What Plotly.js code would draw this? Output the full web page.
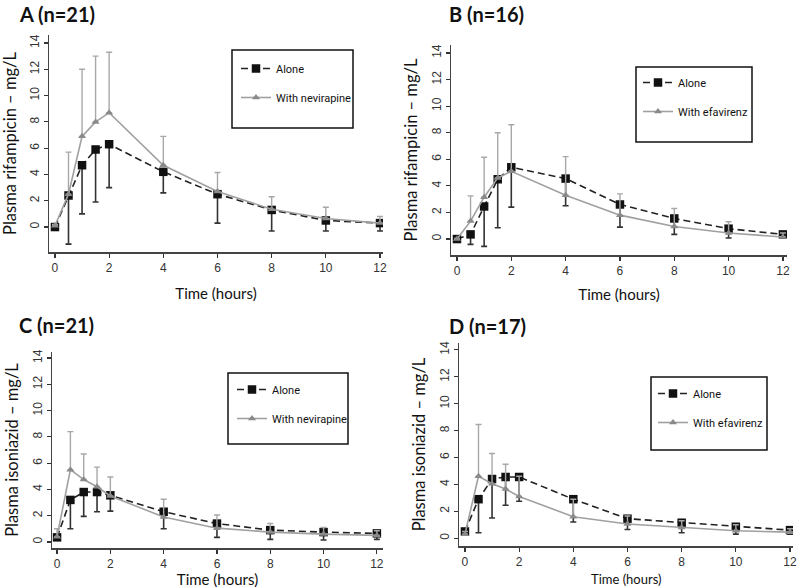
<!DOCTYPE html>
<html>
<head>
<meta charset="utf-8">
<script src="https://cdn.plot.ly/plotly-3.0.1.min.js"></script>
<style>
  body { margin: 0; background: #fff; }
  #chart { width: 800px; height: 588px; }
</style>
</head>
<body>
<div id="chart"></div>
<script>
// sampling times (hours)
const times = [0, 0.5, 1, 1.5, 2, 4, 6, 8, 10, 12]

// A: rifampicin, alone vs with nevirapine
const aloneA = [0.0, 2.4, 4.7, 5.9, 6.3, 4.2, 2.5, 1.3, 0.5, 0.3]
const aloneA_lo = [0.1, 3.7, 3.7, 4.0, 3.3, 1.6, 2.2, 1.6, 0.8, 0.6]
const withA = [0.1, 2.5, 6.9, 8.0, 8.7, 4.7, 2.7, 1.35, 0.65, 0.3]
const withA_hi = [0.1, 3.2, 5.1, 5.0, 4.6, 2.2, 1.45, 0.95, 0.85, 0.5]

// B: rifampicin, alone vs with efavirenz
const aloneB = [0.0, 0.35, 2.45, 4.5, 5.4, 4.55, 2.6, 1.55, 0.78, 0.35]
const aloneB_lo = [0.05, 0.75, 3.0, 3.65, 3.0, 2.05, 1.7, 1.2, 0.7, 0.25]
const withB = [0.0, 1.35, 3.15, 4.6, 5.1, 3.3, 1.8, 0.95, 0.45, 0.15]
const withB_hi = [0.05, 1.9, 3.0, 3.4, 3.5, 2.9, 1.6, 1.35, 0.85, 0.3]

// C: isoniazid, alone vs with nevirapine
const aloneC = [0.35, 3.2, 3.8, 3.8, 3.55, 2.3, 1.4, 0.9, 0.75, 0.65]
const aloneC_lo = [0.15, 2.2, 1.85, 1.5, 1.2, 1.3, 1.05, 0.7, 0.6, 0.45]
const withC = [0.4, 5.5, 4.75, 4.2, 3.5, 1.9, 1.05, 0.75, 0.6, 0.5]
const withC_hi = [0.6, 2.9, 1.95, 1.5, 1.45, 1.35, 1.0, 0.65, 0.5, 0.35]

// D: isoniazid, alone vs with efavirenz
const aloneD = [0.5, 2.9, 4.4, 4.55, 4.55, 2.9, 1.45, 1.15, 0.85, 0.6]
const aloneD_lo = [0.2, 2.5, 2.9, 2.1, 1.8, 1.7, 0.8, 0.75, 0.55, 0.3]
const withD = [0.3, 4.6, 4.05, 3.65, 3.1, 1.6, 1.05, 0.8, 0.55, 0.45]
const withD_hi = [0.2, 3.85, 2.25, 1.85, 1.5, 1.3, 0.6, 0.5, 0.45, 0.25]

const zeros = times.map(() => 0)

function panelTraces(n, alone, aloneLo, withDrug, withHi, drugName){
  let sfx = n === 1 ? '' : String(n)
  let leg = n === 1 ? 'legend' : 'legend' + n
  return [{
    x: times, y: alone,
    xaxis: 'x' + sfx, yaxis: 'y' + sfx,
    name: 'Alone', legend: leg, legendgroup: 'alone' + n,
    type: 'scatter', mode: 'lines+markers',
    line: {color: '#222', width: 1.6, dash: '7px,4px'},
    marker: {symbol: 'square', size: 8.5, color: '#111'},
    error_y: {type: 'data', symmetric: false, array: zeros, arrayminus: aloneLo,
              color: '#333', thickness: 1.6, width: 3}
  }, {
    x: times, y: withDrug,
    xaxis: 'x' + sfx, yaxis: 'y' + sfx,
    name: 'With ' + drugName, legend: leg, legendgroup: 'with' + n,
    type: 'scatter', mode: 'lines+markers',
    line: {color: '#a0a0a0', width: 1.6},
    marker: {symbol: 'triangle-up', size: 7, color: '#8a8a8a'},
    error_y: {type: 'data', symmetric: false, array: withHi, arrayminus: zeros,
              color: '#a8a8a8', thickness: 1.4, width: 3}
  }]
}

let data = []
  .concat(panelTraces(1, aloneA, aloneA_lo, withA, withA_hi, 'nevirapine'))
  .concat(panelTraces(2, aloneB, aloneB_lo, withB, withB_hi, 'efavirenz'))
  .concat(panelTraces(3, aloneC, aloneC_lo, withC, withC_hi, 'nevirapine'))
  .concat(panelTraces(4, aloneD, aloneD_lo, withD, withD_hi, 'efavirenz'))

const W = 800, H = 588
const tickFont = {family: 'Liberation Sans, Arial, sans-serif', size: 12, color: '#333'}
const labelFont = {family: 'Lato, Open Sans, sans-serif', size: 16.5, color: '#111'}
const timeFont = {family: 'Lato, Open Sans, sans-serif', size: 15, color: '#111'}

function xAxis(left, right, lo, hi, anchor, stand, withTitle){
  let ax = {
    domain: [left / W, right / W], range: [lo, hi], anchor: anchor,
    tick0: 0, dtick: 2, ticks: 'outside', ticklen: 4, tickwidth: 1.2, tickcolor: '#333',
    showline: true, linecolor: '#444', linewidth: 1.5, showgrid: false, zeroline: false,
    tickfont: tickFont, automargin: false
  }
  if(withTitle) ax.title = {text: 'Time (hours)', font: timeFont, standoff: stand}
  return ax
}
function yAxis(top, bottom, lo, hi, anchor, label){
  return {
    domain: [1 - bottom / H, 1 - top / H], range: [lo, hi], anchor: anchor,
    tick0: 0, dtick: 2, ticks: 'outside', ticklen: 4, tickwidth: 1.2, tickcolor: '#333',
    tickangle: -90,
    showline: true, linecolor: '#444', linewidth: 1.5, showgrid: false, zeroline: false,
    tickfont: tickFont, automargin: false,
    title: {text: label, font: labelFont, standoff: 8}
  }
}

function legendAt(x, y){
  return {
    x: x / W, y: 1 - y / H, xanchor: 'left', yanchor: 'top',
    xref: 'paper', yref: 'paper',
    bgcolor: 'rgba(0,0,0,0)', borderwidth: 0, tracegroupgap: 10,
    font: {family: 'Roboto, Liberation Sans, sans-serif', size: 11, color: '#111'}
  }
}

function box(x0, y0, x1, y1){
  return {type: 'rect', xref: 'paper', yref: 'paper',
    x0: x0 / W, x1: x1 / W, y0: 1 - y1 / H, y1: 1 - y0 / H,
    line: {color: '#111', width: 1.5}, fillcolor: 'rgba(0,0,0,0)'}
}

function panelTitle(text, x, y){
  return {text: text, xref: 'paper', yref: 'paper', x: x / W, y: 1 - y / H,
    xanchor: 'left', yanchor: 'middle', showarrow: false,
    font: {family: 'Lato, Open Sans, sans-serif', size: 20, color: '#111', weight: 'bold'}}
}

const rifLabel = 'Plasma rifampicin – mg/L'
const inhLabel = 'Plasma isoniazid – mg/L'

var layout = {
  width: W, height: H,
  margin: {l: 0, r: 0, t: 0, b: 0},
  paper_bgcolor: '#fff', plot_bgcolor: '#fff',
  showlegend: true,
  xaxis: xAxis(49, 383, -0.22, 12.11, 'y', 14, true),
  yaxis: yAxis(35, 252, -1.9, 14.61, 'x', rifLabel),
  xaxis2: xAxis(451, 787, -0.22, 12.15, 'y2', 12, true),
  yaxis2: yAxis(45, 255, -1.2, 14.6, 'x2', rifLabel),
  xaxis3: xAxis(52, 383, -0.19, 12.23, 'y3', 12, true),
  yaxis3: yAxis(352, 548, -0.46, 14.46, 'x3', inhLabel),
  xaxis4: xAxis(459, 793, -0.22, 12.11, 'y4', 0, false),
  yaxis4: yAxis(343, 546, -0.58, 14.51, 'x4', inhLabel),
  legend: legendAt(236, 54),
  legend2: legendAt(638, 68),
  legend3: legendAt(232, 375),
  legend4: legendAt(653, 379),
  shapes: [
    box(232, 50, 353, 128),
    box(636, 67, 752, 142),
    box(228, 373, 348, 444),
    box(651, 377, 767, 450)
  ],
  annotations: [
    panelTitle('A (n=21)', 17, 14),
    panelTitle('B (n=16)', 447, 14),
    panelTitle('C (n=21)', 17, 325),
    panelTitle('D (n=17)', 447, 326),
    // panel D has almost no room below its axis, so its x title sits at the page bottom
    {text: 'Time (hours)', xref: 'paper', yref: 'paper', x: 626 / W, y: 0,
     xanchor: 'center', yanchor: 'bottom', showarrow: false, borderpad: 0,
     font: {family: 'Lato, Open Sans, sans-serif', size: 13, color: '#111'}}
  ]
}

Plotly.newPlot('chart', data, layout, {displayModeBar: false, staticPlot: true})
</script>
</body>
</html>
